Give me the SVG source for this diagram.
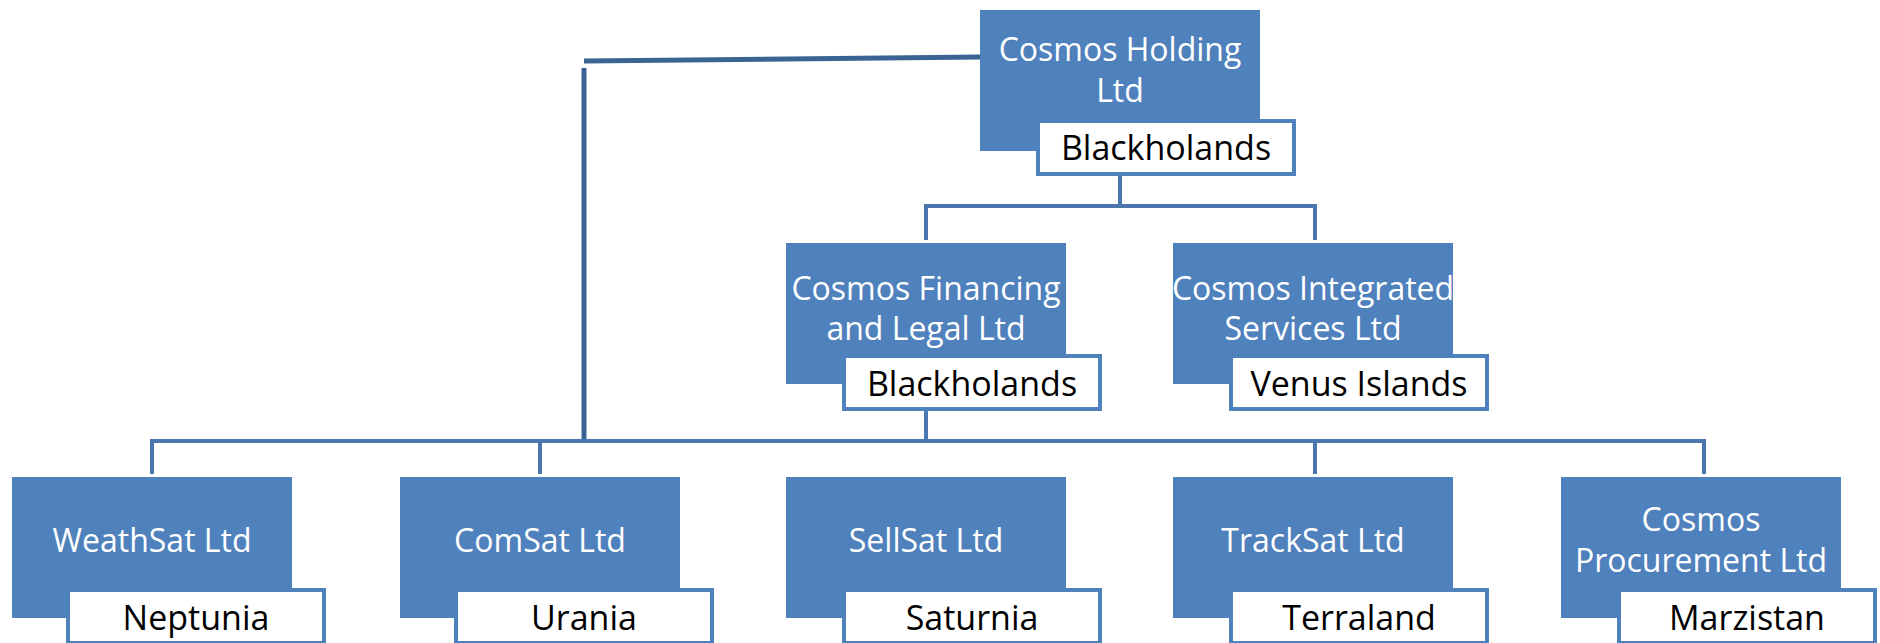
<svg xmlns="http://www.w3.org/2000/svg" width="1880" height="643" viewBox="0 0 1880 643">
<style>
.box{fill:#4F81BD;}
.lbl{fill:#FFFFFF;stroke:#4F81BD;stroke-width:4;}
.t{font-family:"Open Sans","Noto Sans",sans-serif;font-size:32px;fill:#FFFFFF;text-anchor:middle;}
.l{font-family:"Open Sans","Noto Sans",sans-serif;font-size:34px;fill:#000000;text-anchor:middle;}
.c{fill:none;stroke:#4A78AE;stroke-width:4;}
.cd{fill:none;stroke:#3A6394;stroke-width:5;}
</style>
<rect width="1880" height="643" fill="#FFFFFF"/>
<g id="connectors">
<path class="cd" d="M980,57 L584,61"/>
<path class="cd" d="M584,68 L584,441"/>
<path class="c" d="M1120,175 V206 M926,240 V206 H1315 V240"/>
<path class="c" d="M926,410 V441 M152,474 V441 H1704 V474 M540,441 V474 M1315,441 V474"/>
</g>
<g id="cosmos-holding">
<rect class="box" x="980" y="10" width="280" height="141"/>
<text class="t" x="1120" y="61">Cosmos Holding</text>
<text class="t" x="1120" y="102">Ltd</text>
<rect class="lbl" x="1038" y="121" width="256" height="53"/>
<text class="l" x="1166" y="160">Blackholands</text>
</g>
<g id="cosmos-financing">
<rect class="box" x="786" y="243" width="280" height="141"/>
<text class="t" x="926" y="300">Cosmos Financing</text>
<text class="t" x="926" y="340">and Legal Ltd</text>
<rect class="lbl" x="844" y="356" width="256" height="53"/>
<text class="l" x="972" y="396">Blackholands</text>
</g>
<g id="cosmos-integrated">
<rect class="box" x="1173" y="243" width="280" height="141"/>
<text class="t" x="1313" y="300">Cosmos Integrated</text>
<text class="t" x="1313" y="340">Services Ltd</text>
<rect class="lbl" x="1231" y="356" width="256" height="53"/>
<text class="l" x="1359" y="396">Venus Islands</text>
</g>
<g id="weathsat">
<rect class="box" x="12" y="477" width="280" height="141"/>
<text class="t" x="152" y="552">WeathSat Ltd</text>
<rect class="lbl" x="68" y="590" width="256" height="53"/>
<text class="l" x="196" y="630">Neptunia</text>
</g>
<g id="comsat">
<rect class="box" x="400" y="477" width="280" height="141"/>
<text class="t" x="540" y="552">ComSat Ltd</text>
<rect class="lbl" x="456" y="590" width="256" height="53"/>
<text class="l" x="584" y="630">Urania</text>
</g>
<g id="sellsat">
<rect class="box" x="786" y="477" width="280" height="141"/>
<text class="t" x="926" y="552">SellSat Ltd</text>
<rect class="lbl" x="844" y="590" width="256" height="53"/>
<text class="l" x="972" y="630">Saturnia</text>
</g>
<g id="tracksat">
<rect class="box" x="1173" y="477" width="280" height="141"/>
<text class="t" x="1313" y="552">TrackSat Ltd</text>
<rect class="lbl" x="1231" y="590" width="256" height="53"/>
<text class="l" x="1359" y="630">Terraland</text>
</g>
<g id="cosmos-procurement">
<rect class="box" x="1561" y="477" width="280" height="141"/>
<text class="t" x="1701" y="531">Cosmos</text>
<text class="t" x="1701" y="572">Procurement Ltd</text>
<rect class="lbl" x="1619" y="590" width="256" height="53"/>
<text class="l" x="1747" y="630">Marzistan</text>
</g>
</svg>
